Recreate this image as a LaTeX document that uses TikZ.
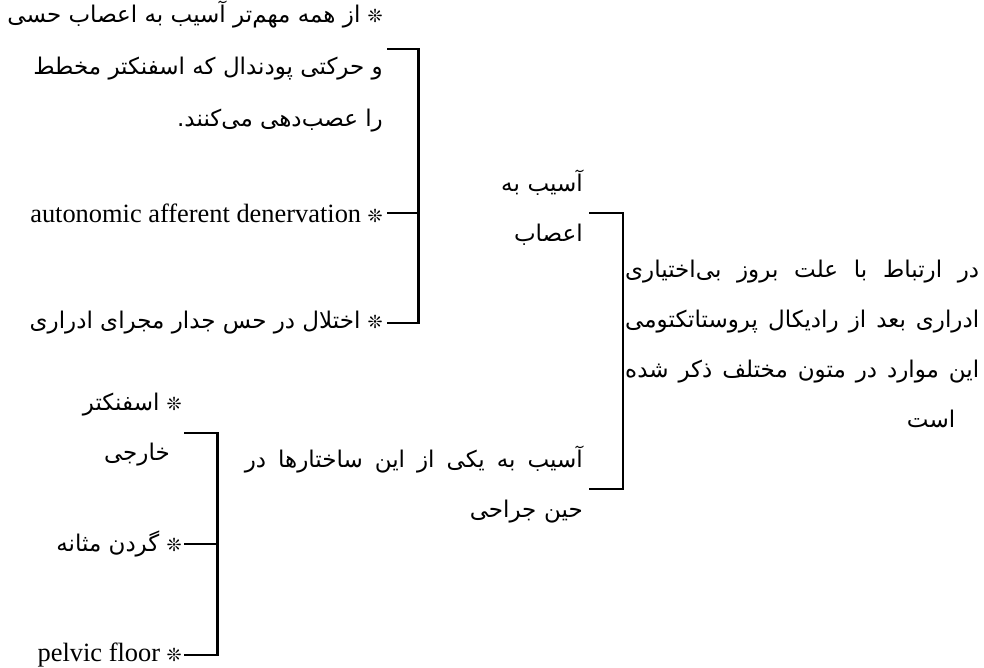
\documentclass[tikz,border=0pt]{standalone}
\usepackage{fontspec}
\setmainfont{Liberation Serif}
\newfontfamily\fafont[Script=Arabic]{DejaVu Sans}
\TeXXeTstate=1
\usetikzlibrary{positioning}
\newcommand{\leafstar}{{\fafont\fontsize{18}{18}\selectfont ❊}}
\newcommand{\gap}{\hskip 0pt plus 1fill\relax}
\tikzset{
    brk/.style={line width=2.6pt},
    fatext/.style={inner ysep=0pt, inner xsep=4pt, align=right, font=\fafont\fontsize{23}{50}\selectfont},
    entext/.style={inner ysep=0pt, inner xsep=4pt, font=\fontsize{26.4}{50}\selectfont},
}

\begin{document}
\begin{tikzpicture}[x=1pt,y=-1pt]
\useasboundingbox (0,0) rectangle (984,667);
\node[fatext, anchor=west, inner xsep=2pt, text width=354pt] (root) at (623,344) {\makebox[354pt]{\beginR در \gap ارتباط \gap با \gap علت \gap بروز \gap بی‌اختیاری\endR}\\ \makebox[354pt]{\beginR ادراری \gap بعد \gap از \gap رادیکال \gap پروستاتکتومی\endR}\\ \makebox[354pt]{\beginR این \gap موارد \gap در \gap متون \gap مختلف \gap ذکر \gap شده\endR}\\ \makebox[354pt][r]{\beginR است\endR\kern24pt}};

\node[fatext, anchor=east, inner xsep=6pt, text width=158pt] (nerve) at (589,208) {\beginR آسیب به\endR\\ \beginR اعصاب\endR};
\node[fatext, anchor=east, inner xsep=6pt, text width=359pt] (surg) at (589,484) {\makebox[338pt]{\beginR آسیب \gap به \gap یکی \gap از \gap این \gap ساختارها \gap در\endR}\\ \beginR حین جراحی\endR};

\node[fatext, anchor=east, font=\fafont\fontsize{23}{52}\selectfont] (pudendal) at (387,67) {\beginR\leafstar{} از همه مهم‌تر آسیب به اعصاب حسی\endR\\ \beginR و حرکتی پودندال که اسفنکتر مخطط\endR\\ \beginR را عصب‌دهی می‌کنند.\endR};
\node[entext, anchor=east] (autonomic) at (387,213) {autonomic afferent denervation \leafstar};
\node[fatext, anchor=east] (urethra) at (387,323) {\beginR\leafstar{} اختلال در حس جدار مجرای ادراری\endR};

\node[fatext, anchor=east, inner xsep=2pt] (sphincter) at (184,430) {\beginR\leafstar{} اسفنکتر\endR\\ \beginR خارجی\endR\kern12pt};
\node[fatext, anchor=east, inner xsep=2pt] (neck) at (184,544) {\beginR\leafstar{} گردن مثانه\endR};
\node[entext, anchor=east, inner xsep=2pt] (pelvic) at (184,655) {pelvic floor \leafstar};

\draw[brk] ([yshift=-5pt]nerve.east) -| (root.west) |- ([yshift=-5pt]surg.east);
\draw[brk] ([yshift=18pt]pudendal.east) -| (nerve.west) |- (urethra.east);
\draw[brk] (autonomic.east) -- (nerve.west |- autonomic.east);
\draw[brk] ([yshift=-3pt]sphincter.east) -| (surg.west) |- (pelvic.east);
\draw[brk] (neck.east) -- (surg.west |- neck.east);
\end{tikzpicture}
\end{document}
